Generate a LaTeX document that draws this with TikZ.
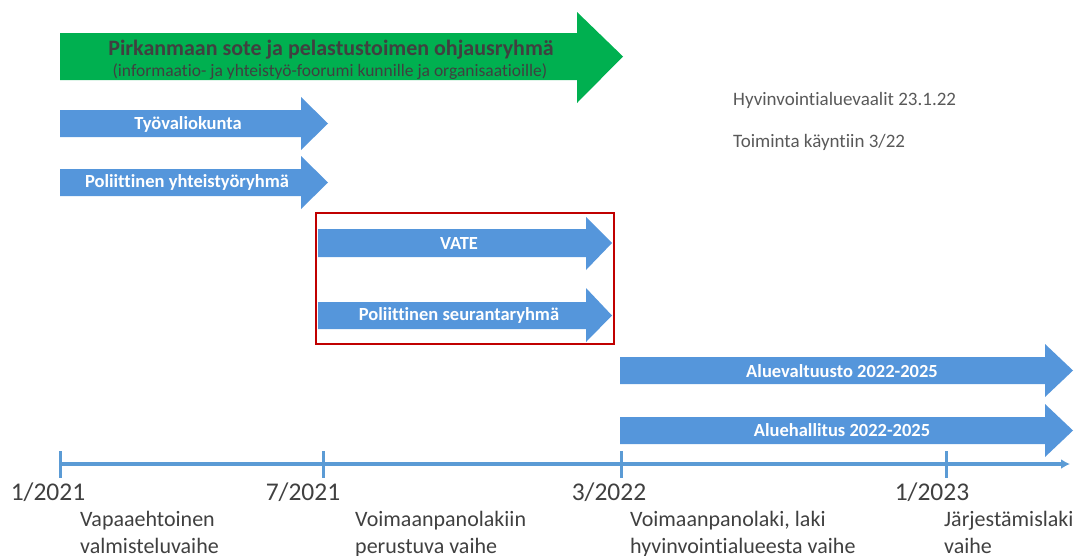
\documentclass[tikz,border=0pt]{standalone}
\usepackage{fontspec}
\usetikzlibrary{arrows.meta}
\setmainfont[Ligatures=NoCommon]{Carlito}
\definecolor{arrowblue}{HTML}{5596DB}
\definecolor{sotegreen}{HTML}{00B050}
\definecolor{boxred}{HTML}{C00000}
\definecolor{axisblue}{HTML}{5B9BD5}
\definecolor{txtgray}{HTML}{595959}
\definecolor{darktxt}{HTML}{404040}
\newcommand{\blockarr}[8]{\fill[#8] (#1,#4) -- (#2,#4) -- (#2,#6) -- (#3,{(#4+#5)/2}) -- (#2,#7) -- (#2,#5) -- (#1,#5) -- cycle;}
\begin{document}
\begin{tikzpicture}[x=1pt,y=-1pt,
  wtext/.style={text=white,font=\bfseries\fontsize{18.5}{21}\selectfont,inner sep=0pt},
  gtitle/.style={text=darktxt,font=\bfseries\fontsize{22}{25}\selectfont,inner sep=0pt},
  gsub/.style={text=darktxt,font=\fontsize{17.5}{20}\selectfont,inner sep=0pt},
  note/.style={text=txtgray,font=\fontsize{19}{22}\selectfont,inner sep=0pt,anchor=west},
  datelbl/.style={text=darktxt,font=\fontsize{25.5}{29}\selectfont,inner sep=0pt},
  phase/.style={text=darktxt,font=\fontsize{22}{27}\selectfont,inner sep=0pt,anchor=north west,align=left},
  axisline/.style={draw=axisblue,line width=4pt},
  tickline/.style={draw=axisblue,line width=3pt}]
\useasboundingbox (0,0) rectangle (1078,555);
% green arrow
\blockarr{60}{577}{623}{33}{80}{12}{103}{sotegreen}
\node[gtitle] (g1) at (331,50) {Pirkanmaan sote ja pelastustoimen ohjausryhmä};
\node[gsub] (g2) at (330,72) {(informaatio- ja yhteistyö-foorumi kunnille ja organisaatioille)};
% blue arrows
\blockarr{60}{301}{328}{110}{137}{97}{150}{arrowblue}
\node[wtext] (tyo) at (188,124) {Työvaliokunta};
\blockarr{60}{301}{328}{169}{196}{156}{209}{arrowblue}
\node[wtext] (pyr) at (187,182) {Poliittinen yhteistyöryhmä};
\blockarr{318}{586}{612}{229}{257}{217}{270}{arrowblue}
\node[wtext] (vate) at (459,243) {VATE};
\blockarr{318}{586}{612}{302}{329}{288}{342}{arrowblue}
\node[wtext] (psr) at (459,315) {Poliittinen seurantaryhmä};
\draw[boxred,line width=2pt] (316,213) rectangle (614,344);
\blockarr{620}{1045}{1073}{357}{384}{344}{397}{arrowblue}
\node[wtext] (avt) at (842,371) {Aluevaltuusto 2022-2025};
\blockarr{620}{1045}{1073}{417}{444}{404}{457}{arrowblue}
\node[wtext] (ahl) at (842,430) {Aluehallitus 2022-2025};
% notes
\node[note] (n1) at (733,100) {Hyvinvointialuevaalit 23.1.22};
\node[note] (n2) at (733,142) {Toiminta käyntiin 3/22};
% timeline
\coordinate (a0) at (60,464);
\coordinate (a1) at (1070,464);
\draw[axisline,-{Latex[length=9pt,width=10pt]}] (a0) -- (a1);
\foreach \x/\n in {60/t1,323/t2,621/t3,946/t4}{
  \coordinate (\n a) at (\x,451);
  \coordinate (\n b) at (\x,478);
  \draw[tickline] (\n a) -- (\n b);
}
\node[datelbl] (d1) at (48,492) {1/2021};
\node[datelbl] (d2) at (303,492) {7/2021};
\node[datelbl] (d3) at (609,492) {3/2022};
\node[datelbl] (d4) at (932,492) {1/2023};
\node[phase] (p1) at (80,511) {Vapaaehtoinen\\valmisteluvaihe};
\node[phase] (p2) at (355,511) {Voimaanpanolakiin\\perustuva vaihe};
\node[phase] (p3) at (630,511) {Voimaanpanolaki, laki\\hyvinvointialueesta vaihe};
\node[phase] (p4) at (944,511) {Järjestämislaki\\vaihe};
\end{tikzpicture}
\end{document}
